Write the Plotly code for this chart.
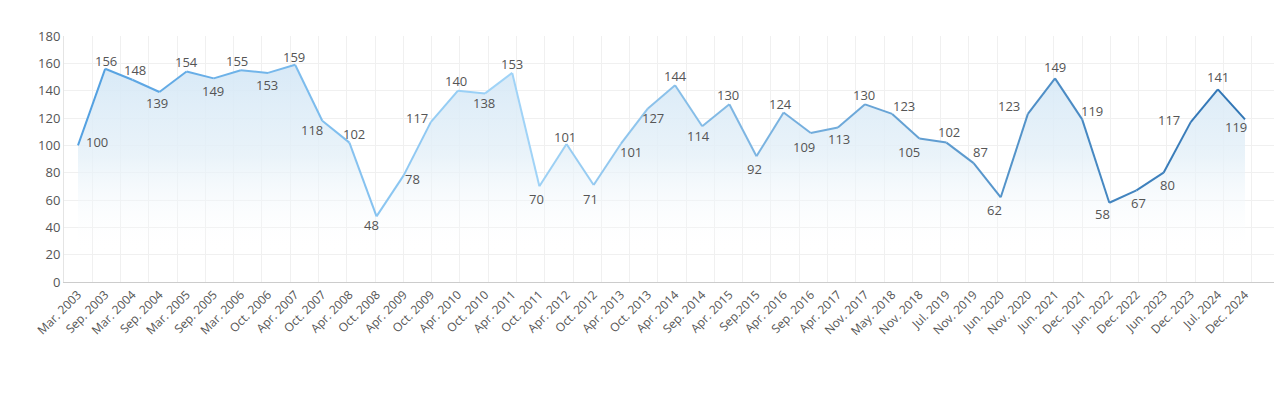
import plotly.graph_objects as go

categories = ["Mar. 2003", "Sep. 2003", "Mar. 2004", "Sep. 2004", "Mar. 2005", "Sep. 2005",
              "Mar. 2006", "Oct. 2006", "Apr. 2007", "Oct. 2007", "Apr. 2008", "Oct. 2008",
              "Apr. 2009", "Oct. 2009", "Apr. 2010", "Oct. 2010", "Apr. 2011", "Oct. 2011",
              "Apr. 2012", "Oct. 2012", "Apr. 2013", "Oct. 2013", "Apr. 2014", "Sep. 2014",
              "Apr. 2015", "Sep.2015", "Apr. 2016", "Sep. 2016", "Apr. 2017", "Nov. 2017",
              "May. 2018", "Nov. 2018", "Jul. 2019", "Nov. 2019", "Jun. 2020", "Nov. 2020",
              "Jun. 2021", "Dec. 2021", "Jun. 2022", "Dec. 2022", "Jun. 2023", "Dec. 2023",
              "Jul. 2024", "Dec. 2024"]
values = [100, 156, 148, 139, 154, 149, 155, 153, 159, 118, 102, 48, 78, 117, 140, 138,
          153, 70, 101, 71, 101, 127, 144, 114, 130, 92, 124, 109, 113, 130, 123, 105,
          102, 87, 62, 123, 149, 119, 58, 67, 80, 117, 141, 119]
y_ticks = [0, 20, 40, 60, 80, 100, 120, 140, 160, 180]

# label pixel offsets from each point (style only): dx right, dy down
label_dx = [19, 1, 3, -2, 0, -1, -4, -1, -1, -10, 5, -5, 9, -14, -2, -1, 0, -3, -2, -3,
            10, 5, 0, -4, -1, -2, -3, -7, 1, -1, 12, -10, 3, 7, -6, -19, 0, 10, -7, 2,
            4, -22, 0, -9]
label_dy = [-3, -8, -10, 11, -10, 13, -9, 12, -8, 9, -9, 9, 4, -4, -10, 10, -9, 13, -7, 14,
            8, 10, -9, 10, -9, 13, -9, 14, 11, -9, -8, 13, -11, -11, 13, -8, -11, -8, 11, 13,
            12, -2, -12, 8]

xi = list(range(len(categories)))
n = len(categories)

def hex2rgb(h):
    h = h.lstrip("#")
    return tuple(int(h[i:i + 2], 16) for i in (0, 2, 4))

stops = [(0, hex2rgb("#519fe0")), (16, hex2rgb("#a2d5f8")), (n - 1, hex2rgb("#2f74b4"))]

def color_at(t):
    for (a, ca), (b, cb) in zip(stops[:-1], stops[1:]):
        if a <= t <= b:
            f = (t - a) / (b - a)
            c = [round(ca[k] + (cb[k] - ca[k]) * f) for k in range(3)]
            return "rgb(%d,%d,%d)" % tuple(c)
    return "rgb(%d,%d,%d)" % stops[-1][1]

fig = go.Figure()

# dummy trace for gridline axis
fig.add_trace(go.Scatter(x=[0], y=[None], xaxis="x2", yaxis="y", showlegend=False,
                         hoverinfo="skip", mode="markers"))

# gradient area
fig.add_trace(go.Scatter(
    x=xi, y=values, mode="lines", line=dict(width=0), fill="tozeroy",
    fillgradient=dict(type="vertical", start=20, stop=165,
                      colorscale=[[0, "rgba(255,255,255,0)"], [0.5, "rgba(228,240,248,0.8)"],
                                  [1, "rgba(212,231,246,0.95)"]]),
    showlegend=False, hoverinfo="skip"))

# line segments with gradient colour
for i in range(n - 1):
    fig.add_trace(go.Scatter(
        x=[xi[i], xi[i + 1]], y=[values[i], values[i + 1]], mode="lines",
        line=dict(color=color_at(i + 0.5), width=2), showlegend=False, hoverinfo="skip"))

# hover points
fig.add_trace(go.Scatter(x=xi, y=values, mode="markers", marker=dict(size=6, color="rgba(0,0,0,0)"),
                         customdata=categories, hovertemplate="%{customdata}: %{y}<extra></extra>",
                         showlegend=False))

annotations = [
    dict(x=xi[i], y=values[i], xref="x", yref="y", text=str(values[i]), showarrow=False,
         xanchor="center", yanchor="middle", xshift=label_dx[i], yshift=-label_dy[i],
         font=dict(family="Open Sans", size=13, color="#555555"))
    for i in range(n)
]

fig.update_layout(
    width=1282, height=397,
    margin=dict(l=56, r=10, t=28, b=123),
    plot_bgcolor="white", paper_bgcolor="white",
    font=dict(family="Open Sans", color="#555555"),
    annotations=annotations,
    xaxis=dict(range=[-0.516, 44.29], tickmode="array", tickvals=xi, ticktext=categories,
               tickangle=-45, tickfont=dict(size=12, color="#555555"), showgrid=False,
               zeroline=False, showline=True, linecolor="#cccccc", linewidth=1,
               ticks="", fixedrange=True),
    xaxis2=dict(range=[0, 43], overlaying="x", dtick=1, showgrid=True, gridcolor="#f0f0f0",
                showticklabels=False, zeroline=False, showline=False, ticks="", layer="below traces"),
    yaxis=dict(range=[0, 180], tickmode="array", tickvals=y_ticks, showgrid=True,
               gridcolor="#f0f0f0", zeroline=False, showline=True, linecolor="#e4e4e4",
               tickfont=dict(size=13, color="#555555"), ticks="", ticklen=0),
)

fig.write_html("out.html")
